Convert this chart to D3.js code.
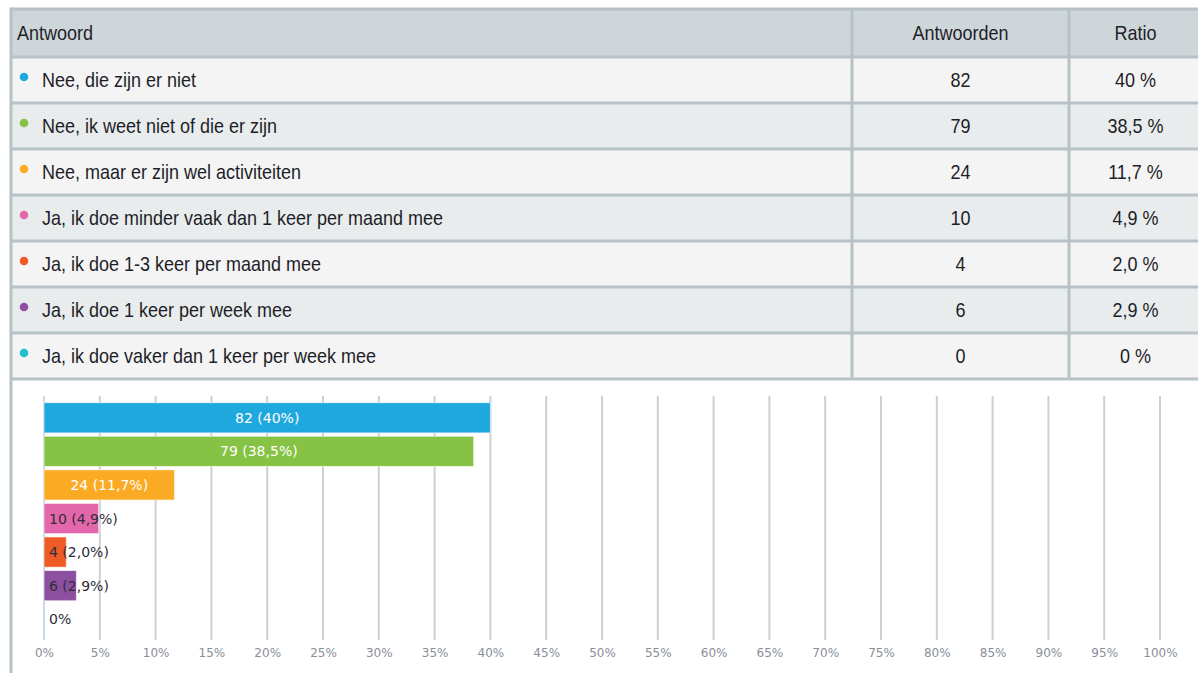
<!DOCTYPE html>
<html>
<head>
<meta charset="utf-8">
<script src="https://cdn.jsdelivr.net/npm/d3@7"></script>
<style>
  body { margin: 0; background: #fff; }
  svg { display: block; }
</style>
</head>
<body>
<div id="chart"></div>
<script>
// survey answers
const answers = [
  "Nee, die zijn er niet",
  "Nee, ik weet niet of die er zijn",
  "Nee, maar er zijn wel activiteiten",
  "Ja, ik doe minder vaak dan 1 keer per maand mee",
  "Ja, ik doe 1-3 keer per maand mee",
  "Ja, ik doe 1 keer per week mee",
  "Ja, ik doe vaker dan 1 keer per week mee"
];
const counts = [82, 79, 24, 10, 4, 6, 0];
const ratioLabels = ["40", "38,5", "11,7", "4,9", "2,0", "2,9", "0"];
const ratios = [40, 38.5, 11.7, 4.9, 2.0, 2.9, 0];
const colors = ["#1fa8de", "#86c344", "#fbaa24", "#e466ab", "#ef5b25", "#8d4f9f", "#21bfcc"];
const headers = ["Antwoord", "Antwoorden", "Ratio"];
const xTicks = d3.range(0, 101, 5);

const width = 1198, height = 673;
const svg = d3.select("#chart").append("svg")
  .attr("width", width)
  .attr("height", height);

// ---- table ----
const border = "#b6c2c6";
const colEdges = [11, 852, 1069, 1202];
const headerTop = 9, headerH = 48, rowH = 46;
const tableFont = "'Liberation Sans', Arial, sans-serif";
const squeeze = 0.9;   // fake a condensed face

const rowY = i => headerTop + headerH + i * rowH;

// narrow text helper: a group that is squeezed horizontally
function cellText(parent, tx, ty, str, anchor) {
  parent.append("g")
    .attr("transform", `translate(${tx},${ty}) scale(${squeeze},1)`)
    .append("text")
    .attr("text-anchor", anchor || "start")
    .attr("font-family", tableFont)
    .attr("font-size", 20)
    .attr("fill", "#1e1e28")
    .text(str);
}

svg.append("rect")
  .attr("x", colEdges[0]).attr("y", headerTop)
  .attr("width", colEdges[3] - colEdges[0]).attr("height", headerH)
  .attr("fill", "#ced6da");

svg.selectAll("rect.row").data(answers).join("rect")
  .attr("class", "row")
  .attr("x", colEdges[0]).attr("y", (d, i) => rowY(i))
  .attr("width", colEdges[3] - colEdges[0]).attr("height", rowH)
  .attr("fill", (d, i) => i % 2 ? "#e8eced" : "#f4f4f4");

const hLines = d3.range(answers.length + 1).map(rowY);
svg.selectAll("line.h").data([headerTop].concat(hLines)).join("line")
  .attr("class", "h")
  .attr("x1", colEdges[0]).attr("x2", colEdges[3])
  .attr("y1", d => d).attr("y2", d => d)
  .attr("stroke", border).attr("stroke-width", 3);

svg.selectAll("line.v").data(colEdges.slice(1, 3)).join("line")
  .attr("class", "v")
  .attr("x1", d => d).attr("x2", d => d)
  .attr("y1", headerTop).attr("y2", rowY(answers.length))
  .attr("stroke", border).attr("stroke-width", 3);

// left border running down the whole panel
svg.append("line")
  .attr("x1", colEdges[0]).attr("x2", colEdges[0])
  .attr("y1", headerTop - 1.5).attr("y2", height)
  .attr("stroke", border).attr("stroke-width", 3);

const headY = headerTop + headerH / 2 + 7;
cellText(svg, 17, headY, headers[0]);
cellText(svg, (colEdges[1] + colEdges[2]) / 2, headY, headers[1], "middle");
cellText(svg, (colEdges[2] + colEdges[3]) / 2, headY, headers[2], "middle");

answers.forEach((a, i) => {
  const cy = rowY(i) + rowH / 2;
  svg.append("circle")
    .attr("cx", 24).attr("cy", cy - 3).attr("r", 4.3)
    .attr("fill", colors[i]);
  cellText(svg, 42, cy + 7, a);
  cellText(svg, (colEdges[1] + colEdges[2]) / 2, cy + 7, String(counts[i]), "middle");
  cellText(svg, (colEdges[2] + colEdges[3]) / 2, cy + 7, ratioLabels[i] + " %", "middle");
});

// ---- bar chart ----
const x = d3.scaleLinear().domain([0, 100]).range([44, 1160]);
const y = d3.scaleBand().domain(answers).range([401, 636])
  .paddingInner(0.1).paddingOuter(0.05);

const gridTop = 396, gridBottom = 640;

svg.append("g").selectAll("line").data(xTicks).join("line")
  .attr("x1", d => x(d)).attr("x2", d => x(d))
  .attr("y1", gridTop).attr("y2", gridBottom)
  .attr("stroke", d => d === 0 ? "#c9d9e6" : "#cfcfcf")
  .attr("stroke-width", 2);

const axis = svg.append("g")
  .attr("transform", `translate(0,${gridBottom})`)
  .call(d3.axisBottom(x).tickValues(xTicks).tickSize(0).tickPadding(8)
    .tickFormat(d => d + "%"));
axis.select(".domain").remove();
axis.selectAll("text")
  .attr("font-family", "'DejaVu Sans', sans-serif")
  .attr("font-size", 12)
  .attr("fill", "#8a8e98");

const bars = svg.append("g").selectAll("g").data(answers).join("g");

bars.append("rect")
  .attr("x", x(0))
  .attr("y", d => y(d))
  .attr("width", (d, i) => x(ratios[i]) - x(0))
  .attr("height", y.bandwidth())
  .attr("fill", (d, i) => colors[i])
  .attr("stroke", (d, i) => ratios[i] === 0 ? "#c9d9e6" : "#ffffff")
  .attr("stroke-opacity", 0.6)
  .attr("stroke-width", 1);

const barLabel = i => counts[i] === 0 ? "0%" : `${counts[i]} (${ratioLabels[i]}%)`;
const fitsInside = i => x(ratios[i]) - x(0) > 90;

bars.append("text")
  .attr("x", (d, i) => fitsInside(i) ? (x(0) + x(ratios[i])) / 2 : x(0) + 5)
  .attr("y", d => y(d) + y.bandwidth() / 2 + 5)
  .attr("text-anchor", (d, i) => fitsInside(i) ? "middle" : "start")
  .attr("font-family", "'DejaVu Sans', sans-serif")
  .attr("font-size", 14)
  .attr("fill", (d, i) => fitsInside(i) ? "#ffffff" : "#2e2e3a")
  .text((d, i) => barLabel(i));
</script>
</body>
</html>
